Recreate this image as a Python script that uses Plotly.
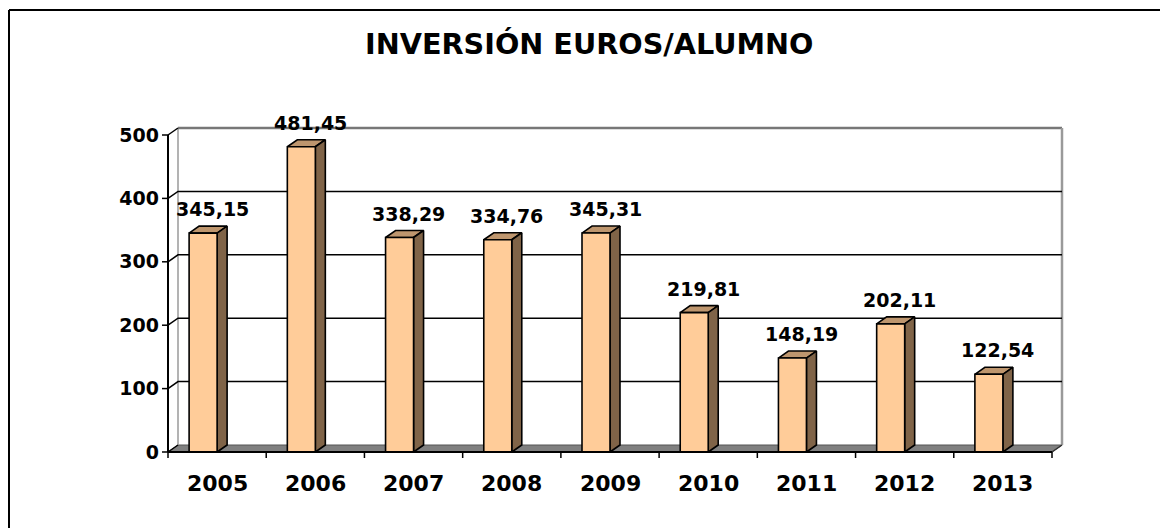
import plotly.graph_objects as go

# ---------------- data ----------------
years = ["2005", "2006", "2007", "2008", "2009", "2010", "2011", "2012", "2013"]
values = [345.15, 481.45, 338.29, 334.76, 345.31, 219.81, 148.19, 202.11, 122.54]
value_labels = ["345,15", "481,45", "338,29", "334,76", "345,31", "219,81", "148,19", "202,11", "122,54"]
y_ticks = [0, 100, 200, 300, 400, 500]
title_text = "INVERSIÓN EUROS/ALUMNO"

# ---------------- geometry / style ----------------
FONT = "DejaVu Sans"
PX_PER_X = 884 / 9          # pixels per category
PX_PER_Y = 317 / 500        # pixels per value unit
DX = 10 / PX_PER_X          # 3D depth offset (x, in category units)
DY = 7 / PX_PER_Y           # 3D depth offset (y, in value units)
BAR_W = 28 / PX_PER_X       # width of bar front face
TICK_X = 6 / PX_PER_X
TICK_Y = 6 / PX_PER_Y
n = len(years)
X0, X1 = -0.5, n - 0.5
YMAX = max(y_ticks)

# plot area in pixels
L, R, T, B = 160, 1066, 126, 460
W, H = 1160, 528
x_range = [X0 - (168 - L) / PX_PER_X, X0 + (R - 168) / PX_PER_X]
y_range = [-(B - 452) / PX_PER_Y, (452 - T) / PX_PER_Y]

FRONT = "#FFCC99"
TOP = "#BE966E"
SIDE = "#806448"
EDGE = "black"

fig = go.Figure()


def poly(xs, ys, fill, line_color=EDGE, width=1.6):
    fig.add_trace(go.Scatter(x=xs, y=ys, mode="lines", fill="toself", fillcolor=fill,
                             line=dict(color=line_color, width=width),
                             hoverinfo="skip", showlegend=False))


def lines(xs, ys, color, width):
    fig.add_trace(go.Scatter(x=xs, y=ys, mode="lines", line=dict(color=color, width=width),
                             hoverinfo="skip", showlegend=False, connectgaps=False))


# floor
poly([X0, X1, X1 + DX, X0 + DX, X0], [0, 0, DY, DY, 0], "#808080", line_color="#555555", width=1)

# back wall / side wall border
lines([X0 + DX, X0 + DX], [DY, YMAX + DY], "#9a9a9a", 1.5)
lines([X0 + DX, X1 + DX], [YMAX + DY, YMAX + DY], "#777777", 2.5)
lines([X1 + DX, X1 + DX], [YMAX + DY, DY], "#9a9a9a", 2.5)

# gridlines (on back wall, with slant on side wall)
gx, gy = [], []
for v in y_ticks:
    if v == YMAX or v == 0:
        gx += [X0, X0 + DX, None]
        gy += [v, v + DY, None]
    else:
        gx += [X0, X0 + DX, X1 + DX, None]
        gy += [v, v + DY, v + DY, None]
lines(gx, gy, "black", 1.5)
# floor right slant
lines([X1, X1 + DX], [0, DY], "#333333", 1.5)

# bars: top, side, front faces
tx, ty, sx, sy, fx, fy = [], [], [], [], [], []
for k, v in enumerate(values):
    xl, xr = k - BAR_W, k
    tx += [xl, xr, xr + DX, xl + DX, xl, None]
    ty += [v, v, v + DY, v + DY, v, None]
    sx += [xr, xr + DX, xr + DX, xr, xr, None]
    sy += [0, DY, v + DY, v, 0, None]
    fx += [xl, xr, xr, xl, xl, None]
    fy += [0, 0, v, v, 0, None]
poly(tx, ty, TOP)
poly(sx, sy, SIDE)
poly(fx, fy, FRONT)

# front axes
lines([X0, X0], [0, YMAX], "black", 2)
lines([X0, X1], [0, 0], "black", 2)
# y ticks
ytx, yty = [], []
for v in y_ticks:
    ytx += [X0 - TICK_X, X0, None]
    yty += [v, v, None]
lines(ytx, yty, "black", 1.5)
# x ticks at category boundaries
xtx, xty = [], []
for i in range(n + 1):
    xtx += [X0 + i, X0 + i, None]
    xty += [0, -TICK_Y, None]
lines(xtx, xty, "black", 1.5)

annotations = []
# data labels
for k, (v, lab) in enumerate(zip(values, value_labels)):
    annotations.append(dict(x=k - 0.05, y=v, xref="x", yref="y", text=lab, showarrow=False,
                            yanchor="middle", xanchor="center", yshift=24,
                            font=dict(family=FONT, size=19, color="black", weight="bold")))
# category labels
for k, yr in enumerate(years):
    annotations.append(dict(x=k, y=0, xref="x", yref="y", text=yr, showarrow=False,
                            yanchor="middle", xanchor="center", yshift=-31.5,
                            font=dict(family=FONT, size=22, color="black", weight="bold")))
# title
annotations.append(dict(x=(589.5 - L) / (R - L), y=(B - 44) / (B - T), xref="paper", yref="paper",
                        text=title_text, showarrow=False, yanchor="middle", xanchor="center",
                        font=dict(family=FONT, size=28.7, color="black", weight="bold")))

px = lambda p: (p - L) / (R - L)
py = lambda p: (B - p) / (B - T)
shapes = [
    dict(type="line", xref="paper", yref="paper", x0=px(9), x1=px(9), y0=py(560), y1=py(10),
         line=dict(color="black", width=2)),
    dict(type="line", xref="paper", yref="paper", x0=px(9), x1=px(1200), y0=py(10), y1=py(10),
         line=dict(color="black", width=2)),
]

fig.update_layout(
    width=W, height=H, autosize=False,
    margin=dict(l=L, r=W - R, t=T, b=H - B, pad=0),
    paper_bgcolor="white", plot_bgcolor="white",
    showlegend=False,
    xaxis=dict(range=x_range, showgrid=False, zeroline=False, showline=False,
               showticklabels=False, ticks="", fixedrange=True),
    yaxis=dict(range=y_range, showgrid=False, zeroline=False, showline=False,
               tickmode="array", tickvals=y_ticks, ticktext=[str(t) for t in y_ticks],
               ticks="", ticklabelstandoff=0,
               tickfont=dict(family=FONT, size=19, color="black", weight="bold"),
               fixedrange=True),
    annotations=annotations,
    shapes=shapes,
)

fig.write_html("out.html", config={"displayModeBar": False},
               post_script="document.body.style.margin='0';")
